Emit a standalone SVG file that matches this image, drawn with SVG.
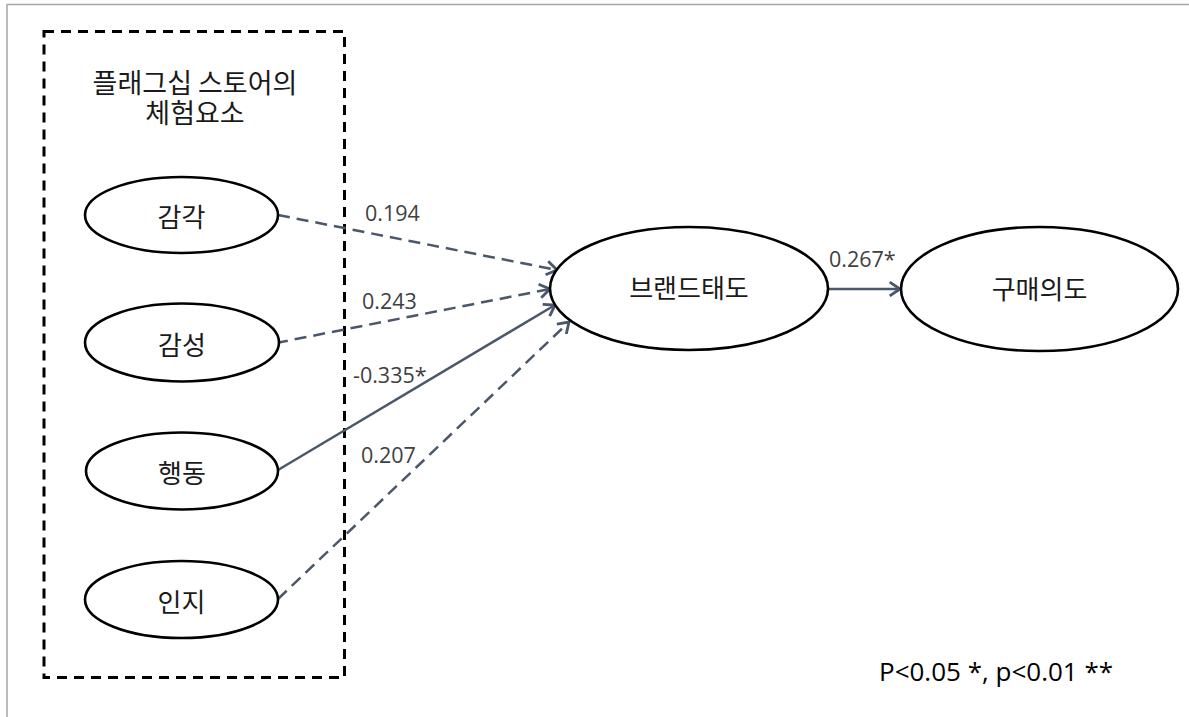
<svg xmlns="http://www.w3.org/2000/svg" width="1189" height="717" viewBox="0 0 1189 717">
  <style>
    .frame { stroke: #a6a6a6; stroke-width: 1.5; fill: none; }
    .group-box { fill: none; stroke: #000; stroke-width: 3; stroke-dasharray: 10 7; }
    .node ellipse { fill: #fff; stroke: #000; stroke-width: 2.6; }
    .node text { font-family: "Malgun Gothic", "Noto Sans CJK KR", sans-serif; font-size: 26px; fill: #1a1a1a; text-anchor: middle; }
    .title { font-family: "Malgun Gothic", "Noto Sans CJK KR", sans-serif; font-size: 27px; fill: #1a1a1a; text-anchor: middle; }
    .edge { fill: none; stroke: #4b586b; stroke-width: 2.5; }
    .dashed { stroke-dasharray: 12 7; }
    .coef { font-family: "Open Sans", "Noto Sans", sans-serif; font-size: 21.5px; fill: #404040; }
    .note { font-family: "Open Sans", "Noto Sans", sans-serif; font-size: 26px; fill: #000; }
  </style>
  <defs>
    <marker id="arrow" markerUnits="userSpaceOnUse" markerWidth="16" markerHeight="16" refX="11" refY="7" orient="auto" viewBox="0 0 14 14">
      <path d="M2,1 L11,7 L2,13" fill="none" stroke="#4b586b" stroke-width="2.5"/>
    </marker>
  </defs>

  <rect width="1189" height="717" fill="#fff"/>
  <!-- page frame (top and left edges) -->
  <path class="frame" d="M7,717 V4.5 H1189"/>

  <!-- experience-factor group -->
  <rect class="group-box" x="44" y="31.5" width="300.5" height="646"/>
  <text class="title" x="195" y="93"><tspan x="195">플래그십 스토어의</tspan><tspan x="195" dy="30">체험요소</tspan></text>

  <!-- connectors -->
  <g id="connectors">
    <line class="edge dashed" x1="278" y1="215" x2="557" y2="270" marker-end="url(#arrow)"/>
    <line class="edge dashed" x1="276" y1="343" x2="550" y2="289" marker-end="url(#arrow)"/>
    <line class="edge" x1="278" y1="470" x2="555" y2="305" marker-end="url(#arrow)"/>
    <line class="edge dashed" x1="278" y1="599" x2="569" y2="322" marker-end="url(#arrow)"/>
    <line class="edge" x1="829" y1="289" x2="900" y2="289" marker-end="url(#arrow)"/>
    <text class="coef" x="365" y="221">0.194</text>
    <text class="coef" x="362" y="309">0.243</text>
    <text class="coef" x="353" y="383">-0.335*</text>
    <text class="coef" x="361" y="463">0.207</text>
    <text class="coef" x="829" y="267">0.267*</text>
  </g>

  <!-- nodes -->
  <g id="sense" class="node">
    <ellipse cx="181.5" cy="215" rx="96.5" ry="38"/>
    <text x="181.5" y="227">감각</text>
  </g>
  <g id="emotion" class="node">
    <ellipse cx="182" cy="342.5" rx="97" ry="39"/>
    <text x="182" y="354.5">감성</text>
  </g>
  <g id="action" class="node">
    <ellipse cx="182" cy="471" rx="96" ry="38.5"/>
    <text x="182" y="483">행동</text>
  </g>
  <g id="cognition" class="node">
    <ellipse cx="181.5" cy="599.5" rx="96.5" ry="38.5"/>
    <text x="181.5" y="611.5">인지</text>
  </g>
  <g id="brand-attitude" class="node">
    <ellipse cx="689" cy="288.5" rx="139" ry="61.5"/>
    <text x="689" y="298">브랜드태도</text>
  </g>
  <g id="purchase-intention" class="node">
    <ellipse cx="1039.5" cy="289" rx="138.5" ry="62"/>
    <text x="1039.5" y="299">구매의도</text>
  </g>

  <text class="note" x="879" y="681">P&lt;0.05 *, p&lt;0.01 **</text>
</svg>
